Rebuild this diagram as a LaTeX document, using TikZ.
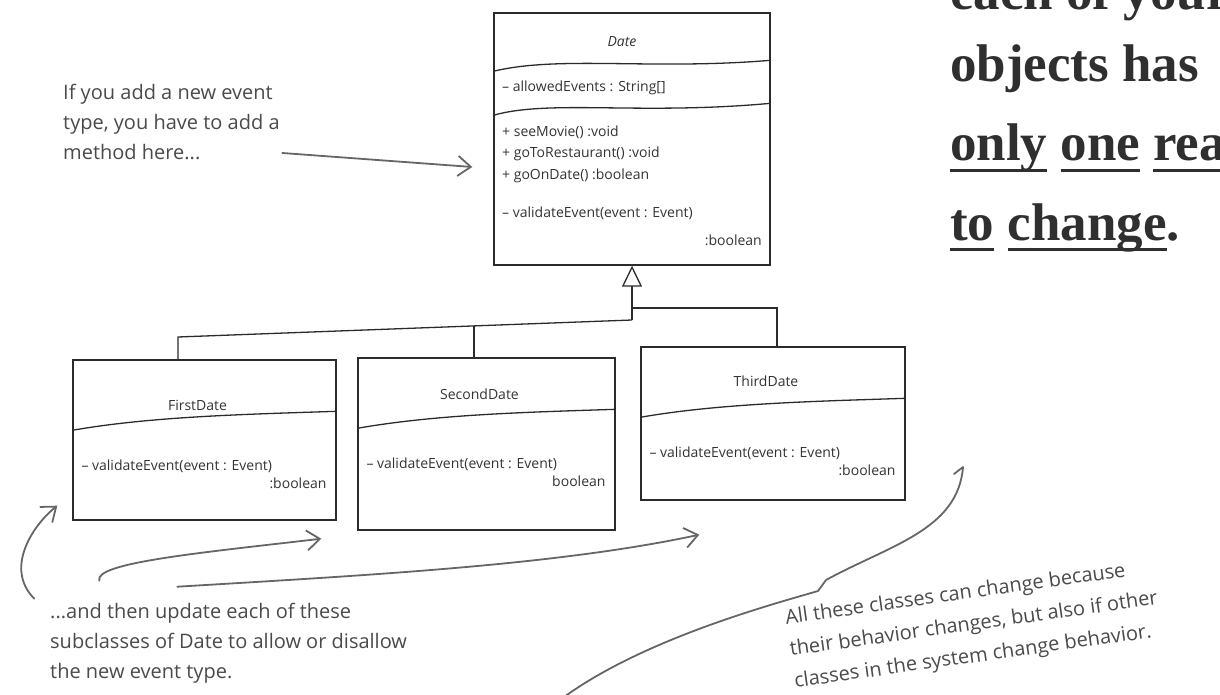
\documentclass[tikz,border=0pt]{standalone}
\usepackage{fontspec}
\setmainfont{Open Sans}
\newfontfamily\handfont{Open Sans}
\newfontfamily\mottofont{Liberation Serif}
\usetikzlibrary{arrows.meta, positioning, calc}
\definecolor{inkline}{HTML}{2B2B2B}
\definecolor{inktext}{HTML}{333333}
\definecolor{notetext}{HTML}{4A4A4A}
\definecolor{notearrow}{HTML}{666666}
\definecolor{mottotext}{HTML}{2F2F2F}
\newcommand\ulword[1]{\setbox0=\hbox{#1}\rlap{\rule[-0.2em]{\wd0}{0.05em}}\box0\relax}
\tikzset{
  cls/.style     = {rectangle, draw=inkline, line width=1.4pt, inner sep=0pt},
  clsname/.style = {font=\handfont\fontsize{14}{16}\selectfont, text=inktext, inner sep=0pt},
  member/.style  = {font=\handfont\fontsize{14}{16}\selectfont, text=inktext, anchor=west, inner sep=0pt},
  sep/.style     = {line width=1.3pt, draw=inkline},
  link/.style    = {line width=1.3pt, draw=inkline},
  inherit/.style = {-{Triangle[open, length=21pt, width=20pt]}, line width=1.3pt, draw=inkline},
  note/.style    = {font=\handfont\fontsize{20}{30}\selectfont, text=notetext, align=left,
                    anchor=north west, inner sep=0pt},
  pointer/.style = {-{Straight Barb[length=13pt, width=20pt]}, line width=1.8pt, draw=notearrow,
                    line cap=round},
  brace/.style   = {line width=1.8pt, draw=notearrow, line cap=round, line join=round},
  motto/.style   = {font=\mottofont\bfseries\fontsize{53}{78}\selectfont, text=mottotext,
                    anchor=base west, inner sep=0pt},
}

\begin{document}
\begin{tikzpicture}[x=1pt, y=-1pt]
  \useasboundingbox (0,0) rectangle (1220,695);
  \clip (0,0) rectangle (1220,695);

  % base class
  \node[cls, minimum width=276, minimum height=252] (date) at (632,139) {};
  \node[clsname, font=\handfont\itshape\fontsize{14}{16}\selectfont] (date-name) at (622,42) {Date};
  \draw[sep] ($(date.north west)+(0,59)$) .. controls +(66,-16) and +(-120,10) .. ($(date.north east)+(0,48)$);
  \node[member] (date-attr) at (502,88) {– allowedEvents : String[]};
  \draw[sep] ($(date.north west)+(0,103)$) .. controls +(56,-16) and +(-130,12) .. ($(date.north east)+(0,91)$);
  \foreach \y/\txt [count=\i] in {132/{+ seeMovie() :void}, 154/{+ goToRestaurant() :void}, 176/{+ goOnDate() :boolean}}
    \node[member] (date-op\i) at (502,\y) {\txt};
  \node[member] (date-check) at (502,213) {– validateEvent(event : Event)};
  \node[member, anchor=east] (date-ret) at (762,240) {:boolean};

  % subclasses
  \node[cls, minimum width=263, minimum height=160] (first) at (204.5,440) {};
  \node[cls, minimum width=257, minimum height=172] (second) at (486.5,444) {};
  \node[cls, minimum width=264, minimum height=153] (third) at (773,423.5) {};
  \foreach \cls/\title/\dy/\ret in {first/FirstDate/46/:boolean, second/SecondDate/37/boolean, third/ThirdDate/35/:boolean}{
    \node[clsname] (\cls-name) at ($(\cls.north)+(-7,\dy)$) {\title};
    \draw[sep] ($(\cls.north west)+(0,71)$) .. controls +(80,-14) and +(-90,3) .. ($(\cls.north east)+(0,52)$);
    \node[member] (\cls-op) at ($(\cls.north west)+(9,107)$) {– validateEvent(event : Event)};
    \node[member, anchor=east] (\cls-ret) at ($(\cls.north east)+(-10,124)$) {\ret};
  }

  % generalization
  \coordinate (hub) at (632,320);
  \coordinate (firstdrop) at (178,337);
  \coordinate (seconddrop) at (474,326);
  \coordinate (thirddrop) at (777,308);
  \draw[inherit] (hub) -- (date.south);
  \draw[link] (hub) -- (firstdrop) -- (firstdrop |- first.north);
  \draw[link] (seconddrop) -- (seconddrop |- second.north);
  \draw[link] (date.south |- thirddrop) -- (thirddrop) -- (thirddrop |- third.north);

  % notes
  \node[note] (addnote) at (63,84) {If you add a new event\\type, you have to add a\\method here...};
  \draw[pointer] ($(date.west)+(-211,14)$) -- ($(date.west)+(-21,28)$);

  \node[note] (updatenote) at (50,603) {...and then update each of these\\subclasses of Date to allow or disallow\\the new event type.};
  \draw[pointer] ($(first.south west)+(-38,78)$) .. controls +(-30,-30) and +(-25,20) .. ($(first.south west)+(-15,-15)$);
  \draw[pointer] ($(first.south west)+(27,60)$) .. controls +(-6,-18) and +(-120,14) .. ($(second.south west)+(-36,8)$);
  \draw[pointer] ($(first.south west)+(105,66)$) .. controls +(200,-12) and +(-140,30) .. ($(third.south west)+(59,34)$);

  \node[note, font=\handfont\fontsize{20}{32}\selectfont, rotate=8] (changenote) at (784,609)
    {All these classes can change because\\their behavior changes, but also if other\\classes in the system change behavior.};
  \draw[brace] (954,474) -- (963,467) .. controls (958,530) and (890,545) .. (826,580) -- (818,591)
    .. controls (770,605) and (640,640) .. (560,700);

  % motto
  \node[motto] (motto1) at (950,10) {each of your};
  \node[motto] (motto2) at (950,82) {objects has};
  \node[motto] (motto3) at (950,161) {\ulword{only} \ulword{one} \ulword{reason}};
  \node[motto] (motto4) at (950,240) {\ulword{to} \ulword{change}.};
\end{tikzpicture}
\end{document}
